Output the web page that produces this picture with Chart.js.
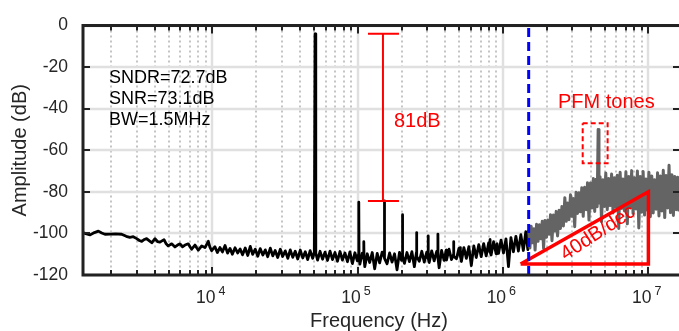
<!DOCTYPE html>
<html>
<head>
<meta charset="utf-8">
<script src="https://cdn.jsdelivr.net/npm/chart.js@4.4.1/dist/chart.umd.min.js"></script>
<style>
html, body { margin: 0; padding: 0; background: #fff; overflow: hidden; }
canvas { display: block; }
</style>
</head>
<body>
<canvas id="grafico" width="679" height="331"></canvas>
<script>
// EIXOS
var xMin = 1285, xMax = 1.624e7;
var yTicks = [-120, -100, -80, -60, -40, -20, 0];
var decades = [1e3, 1e4, 1e5, 1e6, 1e7];
var minorSteps = [2, 3, 4, 5, 6, 7, 8, 9];
var xLabelValues = [1e4, 1e5, 1e6, 1e7];
var xLabelExp = ['4', '5', '6', '7'];

// ESPECTRO (banda do sinal, preto) - kHz / dB
var inbandKHz = [1.28, 1.36, 1.44, 1.54, 1.64, 1.73, 1.82, 1.97, 2.15, 2.37, 2.55, 2.70, 2.85, 3.01, 3.14, 3.26, 3.40, 3.52, 3.68, 3.82,
  4.02, 4.18, 4.35, 4.64, 4.80, 4.96, 5.24, 5.52, 5.75, 5.98, 6.22, 6.47, 6.81, 7.00, 7.19, 7.58, 7.80, 7.99, 8.43, 8.88,
  9.36, 9.60, 9.87, 10.4, 10.8, 11.25, 11.7, 12.2, 12.7, 13.2, 13.7, 14.3, 14.9, 15.5, 16.1, 16.8, 17.5, 18.2, 18.9, 19.7,
  20.5, 21.3, 22.2, 23.1, 24.0, 25.0, 26.0, 27.0, 28.1, 29.3, 30.4, 31.7, 33.0, 34.3, 35.7, 37.1, 38.6, 40.2, 41.8, 43.5,
  45.2, 47.0, 48.9, 50.2, 50.8, 51.4, 52.9, 55.0, 57.2, 59.5, 61.9, 64.4, 67.0, 69.7, 72.5, 75.4, 78.4, 81.6, 84.9, 88.3,
  91.8, 95.5, 99.3, 101.2, 101.6, 102.0, 103.3, 107.4, 109.6, 110.0, 110.4, 111.7, 116.2, 120.8, 125.7, 130.7, 136.0, 141.4, 147.1, 151.8,
  152.4, 153.0, 159.1, 165.5, 172.1, 179.0, 186.2, 193.6, 200.0, 202.5, 203.0, 203.6, 209.5, 217.9, 226.6, 235.7, 245.1, 253.5, 254.0, 254.6,
  265.1, 275.7, 286.8, 298.2, 304.5, 305.0, 305.6, 310.2, 322.6, 335.5, 348.9, 355.5, 356.0, 356.6, 362.9, 377.4, 392.5, 406.0, 408.2, 424.5,
  441.5, 456.5, 457.0, 457.6, 477.5, 496.6, 507.5, 508.0, 508.6, 516.5, 537.2, 558.7, 581.1, 604.3, 628.5, 653.6, 679.8, 707, 735, 765,
  795, 812, 813, 814, 827, 860, 895, 907, 908, 909, 930, 968, 1006, 1047, 1089, 1132, 1178, 1225, 1274, 1325,
  1378, 1433, 1480, 1500];
var inbandDb = [-99.6, -100.2, -100.7, -99.6, -98.9, -99.8, -100.4, -100.3, -100.2, -100.4, -101.4, -101.9, -101.6, -102.5, -103.4, -103.8, -102.9, -102.5, -103.6, -104.5,
  -102.5, -103.9, -104.2, -103.0, -105.0, -106.0, -105.0, -106.5, -105.6, -105.0, -106.4, -105.6, -105.0, -106.4, -107.6, -105.6, -107.0, -108.0, -106.0, -106.8,
  -103.8, -106.6, -108.3, -106.4, -109.2, -106.8, -108.9, -105.8, -109.5, -107.2, -110.0, -106.9, -109.4, -107.5, -110.3, -107.0, -110.6, -106.2, -110.1, -107.6,
  -111.0, -107.3, -110.4, -107.9, -111.2, -107.1, -110.8, -108.2, -111.6, -107.6, -111.1, -108.4, -112.0, -107.9, -111.5, -108.6, -112.3, -108.0, -111.8, -108.8,
  -112.6, -108.3, -112.0, -109.0, -4.0, -109.5, -112.8, -108.6, -112.4, -109.0, -113.0, -108.5, -112.6, -109.2, -113.4, -108.7, -112.8, -109.4, -113.6, -108.9,
  -114.5, -109.3, -113.2, -110.0, -85.0, -111.0, -114.8, -109.5, -112.0, -104.0, -112.0, -116.0, -109.8, -114.0, -109.2, -117.0, -109.6, -114.2, -109.0, -111.0,
  -84.4, -112.0, -114.6, -109.4, -113.8, -109.8, -117.5, -109.1, -113.0, -110.0, -91.0, -111.0, -114.4, -109.2, -113.6, -108.8, -116.0, -109.0, -99.6, -111.0,
  -113.4, -108.6, -113.8, -109.0, -112.0, -101.2, -112.0, -114.0, -108.4, -113.2, -108.7, -111.0, -100.3, -112.0, -116.5, -108.2, -113.0, -108.0, -112.8, -107.6,
  -112.6, -110.0, -104.0, -111.0, -112.2, -107.2, -111.0, -106.8, -111.0, -113.5, -106.8, -112.0, -106.4, -115.5, -106.0, -111.6, -105.4, -111.2, -104.9, -110.8,
  -104.6, -109.0, -103.0, -109.0, -110.4, -104.0, -109.8, -108.0, -105.0, -108.0, -109.6, -103.2, -109.4, -102.6, -116.0, -102.0, -108.8, -101.4, -108.5, -100.6,
  -108.2, -99.2, -107.8, -98.5];

// ESPECTRO (fora da banda, cinza) - MHz / dB
var outbandMHz = [1.50, 1.53, 1.56, 1.59, 1.63, 1.66, 1.70, 1.74, 1.78, 1.82, 1.86, 1.90, 1.94, 1.99, 2.03, 2.08, 2.12, 2.17, 2.22, 2.27,
  2.32, 2.37, 2.43, 2.48, 2.54, 2.60, 2.66, 2.72, 2.78, 2.84, 2.91, 2.97, 3.04, 3.11, 3.18, 3.25, 3.33, 3.40, 3.48, 3.56,
  3.64, 3.73, 3.81, 3.90, 3.99, 4.08, 4.18, 4.27, 4.37, 4.44, 4.51, 4.57, 4.65, 4.76, 4.87, 4.98, 5.09, 5.21, 5.33, 5.45,
  5.58, 5.71, 5.84, 5.97, 6.11, 6.25, 6.39, 6.54, 6.69, 6.84, 7.00, 7.16, 7.33, 7.50, 7.67, 7.84, 8.02, 8.21, 8.40, 8.59,
  8.79, 8.99, 9.20, 9.41, 9.63, 9.85, 10.08, 10.31, 10.55, 10.79, 11.04, 11.30, 11.56, 11.82, 12.10, 12.38, 12.66, 12.95, 13.25, 13.56,
  13.87, 14.19, 14.52, 14.86, 15.20, 15.55, 15.91, 16.27];
var outbandDb = [-98.5, -107.0, -96.5, -104.5, -97.8, -108.0, -95.6, -103.8, -95.8, -102.6, -94.2, -107.2, -93.8, -101.8, -93.6, -100.4, -91.0, -103.5, -91.2, -98.8,
  -89.4, -101.2, -88.8, -97.6, -87.0, -96.4, -82.8, -94.2, -85.4, -93.4, -81.4, -91.8, -83.2, -96.8, -80.2, -90.4, -80.4, -89.6, -78.0, -91.8,
  -77.8, -88.6, -75.6, -93.6, -75.8, -87.8, -73.6, -89.4, -74.0, -87.2, -50.0, -85.4, -72.8, -94.4, -74.2, -87.0, -71.0, -88.6, -73.6, -86.6,
  -71.4, -90.2, -73.2, -87.4, -72.0, -97.6, -70.6, -88.0, -73.8, -89.2, -70.4, -95.4, -72.6, -87.6, -69.8, -90.4, -73.2, -88.2, -70.0, -97.4,
  -72.6, -89.8, -70.2, -91.2, -73.8, -88.8, -70.6, -92.0, -72.4, -90.2, -74.2, -88.4, -70.8, -91.6, -72.4, -89.2, -69.6, -92.4, -72.2, -87.8,
  -67.2, -90.0, -71.8, -91.4, -72.6, -88.6, -73.0, -89.4];

// ANOTACOES
var bwHz = 1.5e6;
var bracketHz = [117.5e3, 149e3, 192e3];   // esquerda, haste, direita
var bracketDb = [-4, -84.4];
var triHz = [1.32e6, 1e7, 1e7, 1.32e6];
var triDb = [-114.7, -114.7, -80, -114.7];
var pfmBoxHz = [3.53e6, 5.24e6];
var pfmBoxDb = [-47, -66.3];
var infoText = ['SNDR=72.7dB', 'SNR=73.1dB', 'BW=1.5MHz'];

var FONT = '"Liberation Sans", Arial, Helvetica, sans-serif';

var inband = inbandKHz.map(function (f, i) { return { x: f * 1e3, y: inbandDb[i] }; });
var outband = outbandMHz.map(function (f, i) { return { x: f * 1e6, y: outbandDb[i] }; });
var bwLine = [{ x: bwHz, y: yTicks[0] }, { x: bwHz, y: yTicks[yTicks.length - 1] }];
var bracket = [
  { x: bracketHz[0], y: bracketDb[0] }, { x: bracketHz[2], y: bracketDb[0] }, { x: bracketHz[1], y: null },
  { x: bracketHz[1], y: bracketDb[0] }, { x: bracketHz[1], y: bracketDb[1] }, { x: bracketHz[1], y: null },
  { x: bracketHz[0], y: bracketDb[1] }, { x: bracketHz[2], y: bracketDb[1] }
];
var triangle = triHz.map(function (f, i) { return { x: f, y: triDb[i] }; });
var pfmBox = [
  { x: pfmBoxHz[0], y: pfmBoxDb[0] }, { x: pfmBoxHz[1], y: pfmBoxDb[0] }, { x: pfmBoxHz[1], y: pfmBoxDb[1] },
  { x: pfmBoxHz[0], y: pfmBoxDb[1] }, { x: pfmBoxHz[0], y: pfmBoxDb[0] }
];

function inRange(v) { return v > xMin && v < xMax; }

var desenho = {
  id: 'desenho',
  beforeDatasetsDraw: function (chart) {
    var c = chart.ctx, a = chart.chartArea, sx = chart.scales.x, sy = chart.scales.y;
    c.save();
    // grade menor (pontilhada)
    c.strokeStyle = '#c4c4c4'; c.lineWidth = 2; c.setLineDash([2, 3]);
    decades.forEach(function (d) {
      minorSteps.forEach(function (m) {
        var v = d * m; if (!inRange(v)) return;
        var px = Math.round(sx.getPixelForValue(v));
        c.beginPath(); c.moveTo(px, a.top); c.lineTo(px, a.bottom); c.stroke();
      });
    });
    // grade maior
    c.setLineDash([]); c.strokeStyle = '#e0e0e0'; c.lineWidth = 2.5;
    decades.forEach(function (d) {
      if (!inRange(d)) return;
      var px = Math.round(sx.getPixelForValue(d));
      c.beginPath(); c.moveTo(px, a.top); c.lineTo(px, a.bottom); c.stroke();
    });
    yTicks.forEach(function (v) {
      var py = Math.round(sy.getPixelForValue(v));
      c.beginPath(); c.moveTo(a.left, py); c.lineTo(a.right, py); c.stroke();
    });
    c.restore();
  },
  afterDatasetsDraw: function (chart) {
    var c = chart.ctx, a = chart.chartArea, sx = chart.scales.x, sy = chart.scales.y;
    c.save();
    c.strokeStyle = '#222'; c.lineWidth = 2;
    // marcas internas
    decades.forEach(function (d) {
      [1].concat(minorSteps).forEach(function (m) {
        var v = d * m; if (!inRange(v)) return;
        var px = Math.round(sx.getPixelForValue(v));
        var len = m === 1 ? 8 : 5;
        c.beginPath(); c.moveTo(px, a.bottom); c.lineTo(px, a.bottom - len); c.stroke();
        c.beginPath(); c.moveTo(px, a.top); c.lineTo(px, a.top + len); c.stroke();
      });
    });
    yTicks.forEach(function (v) {
      var py = Math.round(sy.getPixelForValue(v));
      c.beginPath(); c.moveTo(a.left, py); c.lineTo(a.left + 7, py); c.stroke();
      c.beginPath(); c.moveTo(a.right, py); c.lineTo(a.right - 6, py); c.stroke();
    });
    // moldura
    c.lineWidth = 3;
    c.beginPath();
    c.moveTo(a.right + 2, a.top); c.lineTo(a.left, a.top); c.lineTo(a.left, a.bottom); c.lineTo(a.right + 2, a.bottom);
    c.stroke();
    c.restore();
  },
  afterDraw: function (chart) {
    var c = chart.ctx, a = chart.chartArea, sx = chart.scales.x, sy = chart.scales.y;
    c.save();
    // rotulos do eixo x (10^n)
    c.fillStyle = '#262626';
    xLabelValues.forEach(function (v, i) {
      var px = sx.getPixelForValue(v);
      c.font = '17.5px ' + FONT; c.textAlign = 'right'; c.textBaseline = 'alphabetic';
      c.fillText('10', px + 3, 303);
      c.font = '12.5px ' + FONT; c.textAlign = 'left';
      c.fillText(xLabelExp[i], px + 6, 295);
    });
    // titulos
    c.font = '20px ' + FONT; c.textAlign = 'center'; c.textBaseline = 'alphabetic';
    c.fillText('Frequency (Hz)', 379, 327);
    c.save();
    c.translate(26, (a.top + a.bottom) / 2);
    c.rotate(-Math.PI / 2);
    c.fillText('Amplitude (dB)', 0, 0);
    c.restore();
    // texto
    c.fillStyle = '#000'; c.font = '18px ' + FONT; c.textAlign = 'left'; c.textBaseline = 'middle';
    infoText.forEach(function (t, i) { c.fillText(t, 109, 78 + i * 21); });
    c.fillStyle = '#ff0000'; c.font = '20px ' + FONT;
    c.fillText('81dB', sx.getPixelForValue(bracketHz[1]) + 11, sy.getPixelForValue(-46));
    c.fillText('PFM tones', 558, 102);
    c.save();
    c.translate(598, 233);
    c.rotate(-33 * Math.PI / 180);
    c.textAlign = 'center';
    c.fillText('40dB/dec', 0, 0);
    c.restore();
    c.restore();
  }
};

new Chart(document.getElementById('grafico'), {
  type: 'scatter',
  data: {
    datasets: [
      { data: bwLine, showLine: true, pointRadius: 0, borderColor: '#0000ff', borderWidth: 3, borderDash: [9, 5], order: 0 },
      { data: bracket, showLine: true, spanGaps: false, pointRadius: 0, borderColor: '#ff0000', borderWidth: 2, order: 0 },
      { data: triangle, showLine: true, pointRadius: 0, borderColor: '#ff0000', borderWidth: 3.5, borderJoinStyle: 'miter', order: 0 },
      { data: pfmBox, showLine: true, pointRadius: 0, borderColor: '#ff0000', borderWidth: 2, borderDash: [5, 3], order: 0 },
      { data: outband, showLine: true, pointRadius: 0, borderColor: '#646464', borderWidth: 3, borderJoinStyle: 'round', order: 1 },
      { data: inband, showLine: true, pointRadius: 0, borderColor: '#000000', borderWidth: 2.8, borderJoinStyle: 'round', order: 2 }
    ]
  },
  options: {
    responsive: false,
    animation: false,
    devicePixelRatio: 1,
    layout: { padding: { top: 12, right: 0, bottom: 0, left: 0 } },
    plugins: { legend: { display: false }, tooltip: { enabled: false } },
    scales: {
      x: {
        type: 'logarithmic', min: xMin, max: xMax,
        ticks: { display: false },
        grid: { display: false },
        border: { display: false },
        afterFit: function (s) { s.height = 56; }
      },
      y: {
        min: -120, max: 0,
        afterBuildTicks: function (s) { s.ticks = yTicks.map(function (v) { return { value: v }; }); },
        ticks: { font: { family: FONT, size: 17.5 }, color: '#262626', padding: 15 },
        grid: { display: false, drawTicks: false },
        border: { display: false },
        afterFit: function (s) { s.width = 83; }
      }
    }
  },
  plugins: [desenho]
});
</script>
</body>
</html>
